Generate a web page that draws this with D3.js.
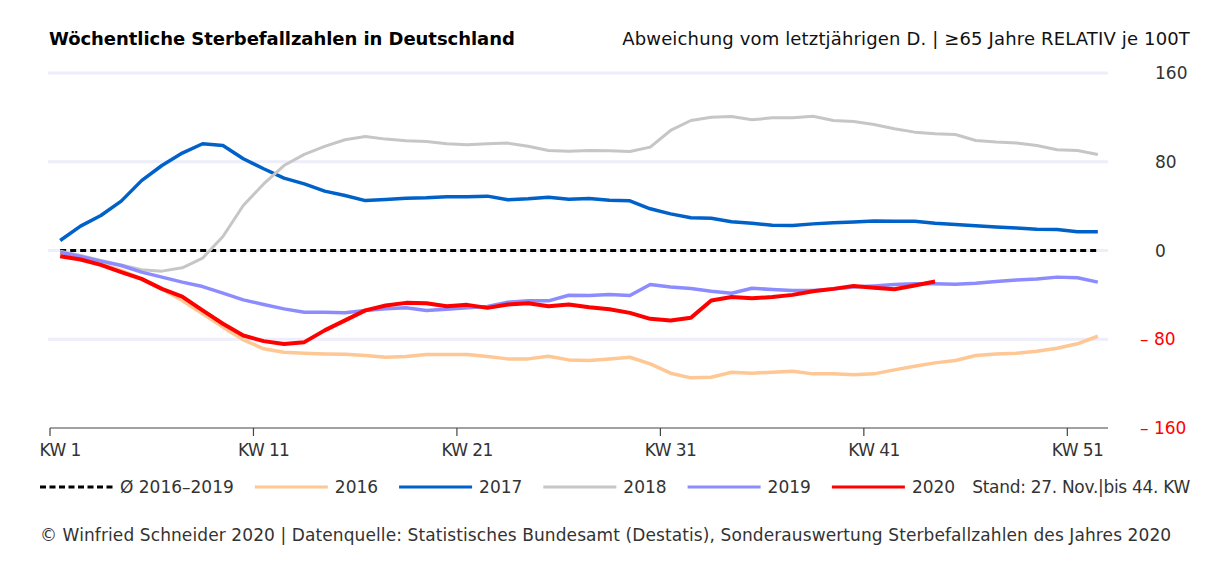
<!DOCTYPE html>
<html><head><meta charset="utf-8">
<script src="https://cdn.jsdelivr.net/npm/d3@7"></script>
<style>body{margin:0;background:#fff}svg text{font-family:"DejaVu Sans",sans-serif}</style>
</head><body><svg id="c" width="1214" height="564"></svg>
<script>
const weeks = d3.range(1, 53);
const avg = [0,0,0,0,0,0,0,0,0,0,0,0,0,0,0,0,0,0,0,0,0,0,0,0,0,0,0,0,0,0,0,0,0,0,0,0,0,0,0,0,0,0,0,0,0,0,0,0,0,0,0,0];
const y2016 = [-2.4,-6.9,-12,-18,-25.6,-34.6,-45,-57,-69.1,-80.5,-88.6,-91.7,-92.6,-93.2,-93.5,-94.7,-96.2,-95.6,-93.8,-93.8,-93.8,-95.6,-97.7,-97.7,-95.3,-98.6,-99.2,-97.7,-96.2,-102.2,-110.6,-114.8,-114.2,-109.7,-110.6,-109.7,-108.8,-111.2,-111.2,-112.1,-111.2,-107.6,-104.3,-101.3,-99.2,-94.7,-93.2,-92.6,-90.8,-88.1,-84.1,-77.3];
const y2017 = [9,22,31.6,44.5,63,76.6,87.8,96.2,94.7,82.7,73.7,65.2,60,53.5,49.6,45,46,47.2,47.5,48.4,48.4,49,45.7,46.6,48,46.3,46.9,45.4,44.8,37.6,33,29.5,29,26,24.5,22.8,22.5,24,25,25.8,26.5,26.4,26.4,24.5,23.4,22.3,21.2,20.3,19.2,18.9,17,17];
const y2018 = [-0.6,-4.5,-9,-13,-17.4,-18.6,-15.6,-6.9,12.6,40.6,60,76.6,86.6,93.8,99.8,102.8,100.4,98.9,98.3,96.2,95.3,96.2,96.8,94,90.2,89.5,90.2,89.9,89.3,93.2,108.2,117.2,120.2,120.8,117.8,119.6,119.6,121,117.2,116.3,113.6,109.7,106.7,105.2,104.6,99.2,97.7,96.8,94.7,90.8,90.2,86.6];
const y2019 = [-1.5,-5.4,-9.6,-13.5,-19.5,-24,-28.5,-32.5,-38.5,-44.5,-48.7,-52.6,-55.6,-55.6,-56.2,-54,-52.6,-51.7,-54,-52.9,-51.7,-50.5,-46.6,-45.4,-45.4,-40.3,-40.6,-39.7,-40.6,-30.7,-33,-34.3,-36.7,-38.5,-34,-35.2,-36,-36,-34.6,-33,-31.9,-30.7,-30,-30,-30.4,-29.5,-28,-26.5,-25.6,-24,-24.6,-28.5];
const y2020 = [-5.1,-8.1,-13,-19.5,-25.6,-34.6,-41.5,-54,-66,-76.6,-81.7,-84.2,-82.6,-72,-63,-54,-49.6,-47.2,-47.5,-50.2,-49,-51.7,-48.7,-47.5,-50.2,-48.7,-51.1,-52.9,-56.2,-61.6,-63.1,-60.7,-45,-42,-43,-42,-40,-36.7,-34.6,-31.9,-33.6,-34.9,-31.6,-28];
const xTickWeeks = [1, 11, 21, 31, 41, 51];
const yTicks = [160, 80, 0, -80, -160];
const yTickLabels = ["160", "80", "0", "– 80", "– 160"];
const seriesNames = ["Ø 2016–2019", "2016", "2017", "2018", "2019", "2020"];
const title = "Wöchentliche Sterbefallzahlen in Deutschland";
const subtitle = "Abweichung vom letztjährigen D. | ≥65 Jahre RELATIV je 100T";
const standText = "Stand: 27. Nov.|bis 44. KW";
const footer = "© Winfried Schneider 2020 | Datenquelle: Statistisches Bundesamt (Destatis), Sonderauswertung Sterbefallzahlen des Jahres 2020";

const svg = d3.select("#c");
const x = d3.scaleLinear().domain([0.5, 52.5]).range([50, 1108]);
const y = d3.scaleLinear().domain([-160, 160]).range([428, 73]);

// title
svg.append("text").attr("x", 49).attr("y", 45).attr("font-size", 18).attr("font-weight", "bold").attr("fill", "#000").attr("letter-spacing", -0.05).text(title);
svg.append("text").attr("x", 1190).attr("y", 45).attr("font-size", 18).attr("text-anchor", "end").attr("fill", "#111").attr("letter-spacing", 0.15).text(subtitle);

// gridlines
svg.append("g").selectAll("line").data(yTicks.filter(d => d > -160)).join("line")
  .attr("x1", 48).attr("x2", 1108).attr("y1", d => y(d)).attr("y2", d => y(d))
  .attr("stroke", "#ededfb").attr("stroke-width", 3);

// x axis
const xAxis = svg.append("g").attr("transform", `translate(0,${y(-160)})`);
xAxis.append("line").attr("x1", x(0.5)).attr("x2", x(52.5)).attr("stroke", "#444").attr("stroke-width", 1.2);
xAxis.selectAll("line.t").data(xTickWeeks).join("line").attr("class", "t")
  .attr("x1", d => x(d - 0.5)).attr("x2", d => x(d - 0.5)).attr("y1", 0).attr("y2", 8)
  .attr("stroke", "#444").attr("stroke-width", 1.2);
xAxis.selectAll("text").data(xTickWeeks).join("text")
  .attr("x", d => x(d)).attr("y", 28).attr("text-anchor", "middle").attr("font-size", 17)
  .attr("fill", "#333").attr("letter-spacing", -0.6).text(d => "KW " + d);

// y labels (right)
svg.append("g").selectAll("text").data(yTicks).join("text")
  .attr("x", (d) => d < 0 ? 1140 : 1155).attr("y", d => y(d) + 6).attr("font-size", 17)
  .attr("fill", d => d < 0 ? "#ff0000" : "#333")
  .text((d, i) => yTickLabels[i]);

const line = d3.line().x((d, i) => x(weeks[i])).y(d => y(d));
const series = [
  {data: avg, color: "#000", w: 3, dash: "6,4"},
  {data: y2016, color: "#ffc794", w: 3.5},
  {data: y2017, color: "#0061c9", w: 3.5},
  {data: y2018, color: "#c6c6c6", w: 3},
  {data: y2019, color: "#8c8cff", w: 3.5},
  {data: y2020, color: "#ff0000", w: 4}
];
svg.append("g").selectAll("path").data(series).join("path")
  .attr("d", s => line(s.data)).attr("fill", "none")
  .attr("stroke", s => s.color).attr("stroke-width", s => s.w)
  .attr("stroke-dasharray", s => s.dash || null).attr("stroke-linejoin", "round");

// legend
const lg = svg.append("g");
let lx = 40;
const ly = 487;
series.forEach((s, i) => {
  lg.append("line").attr("x1", lx).attr("x2", lx + 73).attr("y1", ly).attr("y2", ly)
    .attr("stroke", s.color).attr("stroke-width", 3)
    .attr("stroke-dasharray", s.dash ? "6,3.5" : null);
  const t = lg.append("text").attr("x", lx + 80).attr("y", ly + 6).attr("font-size", 17).attr("fill", "#333").text(seriesNames[i]);
  lx = lx + 80 + t.node().getComputedTextLength() + 21;
});
lg.append("text").attr("x", 1190).attr("y", ly + 6).attr("font-size", 17).attr("text-anchor", "end").attr("fill", "#333").attr("letter-spacing", -0.3).text(standText);

svg.append("text").attr("x", 40).attr("y", 541).attr("font-size", 17).attr("fill", "#333").attr("letter-spacing", 0.1).text(footer);
</script></body></html>
